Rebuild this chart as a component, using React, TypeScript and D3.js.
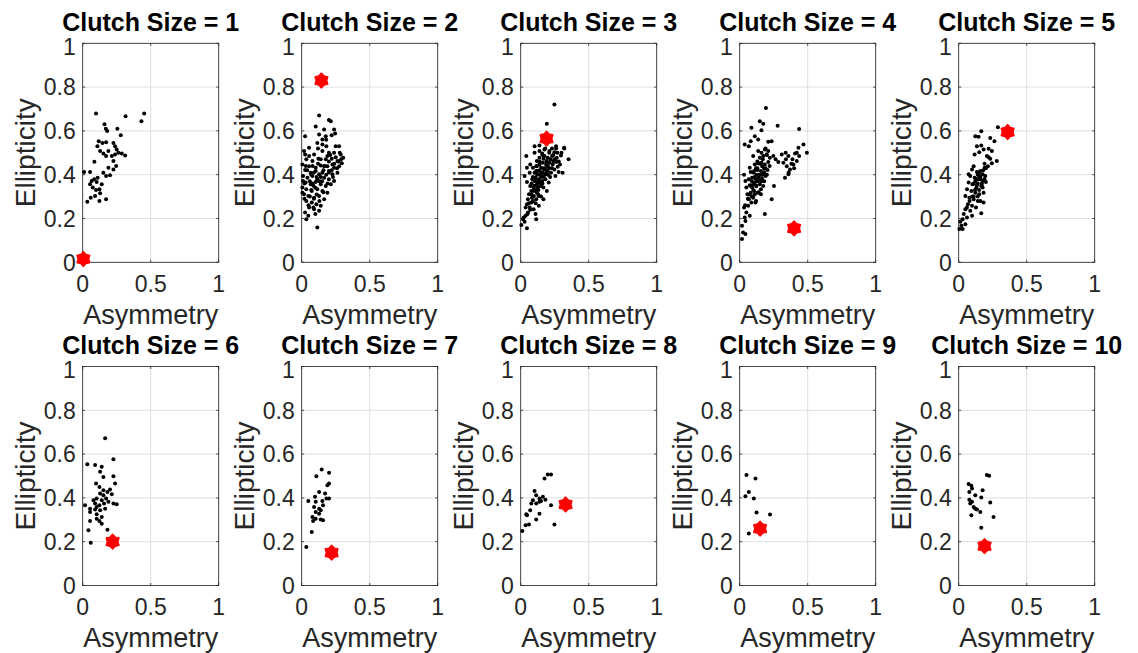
import React, { useEffect, useRef } from 'react';
import * as d3 from 'd3';

const clutchSizes = [1, 2, 3, 4, 5, 6, 7, 8, 9, 10];
const xTicks = [0, 0.5, 1];
const yTicks = [0, 0.2, 0.4, 0.6, 0.8, 1];
const xTickLabels = ['0', '0.5', '1'];
const yTickLabels = ['0', '0.2', '0.4', '0.6', '0.8', '1'];

// [asymmetry, ellipticity] for each egg, one array per clutch size
const clutch1 = [
  [0.098, 0.679], [0.315, 0.667], [0.452, 0.679], [0.432, 0.644], [0.16, 0.63], [0.17, 0.61],
  [0.18, 0.6], [0.255, 0.61], [0.28, 0.58], [0.118, 0.553], [0.145, 0.545], [0.172, 0.548],
  [0.226, 0.545], [0.238, 0.53], [0.25, 0.515], [0.108, 0.53], [0.128, 0.508], [0.152, 0.497],
  [0.172, 0.485], [0.189, 0.508], [0.214, 0.485], [0.238, 0.492], [0.263, 0.5], [0.287, 0.497],
  [0.312, 0.488], [0.226, 0.462], [0.246, 0.44], [0.226, 0.424], [0.086, 0.459], [0.189, 0.432],
  [0.152, 0.409], [0.172, 0.394], [0.201, 0.397], [0.01, 0.412], [0.054, 0.412], [0.066, 0.371],
  [0.084, 0.379], [0.103, 0.367], [0.054, 0.356], [0.074, 0.341], [0.098, 0.33], [0.123, 0.333],
  [0.128, 0.315], [0.091, 0.303], [0.059, 0.295], [0.034, 0.276], [0.123, 0.28], [0.172, 0.288],
  [0.14, 0.356], [0.11, 0.386],
];

const clutch2 = [
  [0.128, 0.67], [0.2, 0.65], [0.214, 0.644], [0.103, 0.62], [0.165, 0.606], [0.238, 0.606],
  [0.246, 0.588], [0.128, 0.583], [0.025, 0.576], [0.177, 0.576], [0.115, 0.545], [0.152, 0.538],
  [0.25, 0.53], [0.275, 0.53], [0.054, 0.523], [0.017, 0.508], [0.025, 0.492], [0.152, 0.508],
  [0.2, 0.5], [0.238, 0.5], [0.287, 0.492], [0.305, 0.477], [0.034, 0.47], [0.079, 0.462],
  [0.123, 0.473], [0.177, 0.47], [0.221, 0.473], [0.263, 0.462], [0.295, 0.452], [0.005, 0.447],
  [0.054, 0.439], [0.103, 0.432], [0.14, 0.442], [0.189, 0.439], [0.238, 0.432], [0.275, 0.439],
  [0.025, 0.421], [0.066, 0.409], [0.103, 0.417], [0.152, 0.409], [0.2, 0.417], [0.226, 0.402],
  [0.263, 0.409], [0.01, 0.394], [0.042, 0.386], [0.079, 0.394], [0.115, 0.379], [0.165, 0.386],
  [0.2, 0.379], [0.238, 0.371], [0.029, 0.364], [0.066, 0.356], [0.103, 0.367], [0.14, 0.356],
  [0.177, 0.348], [0.214, 0.356], [0.005, 0.341], [0.034, 0.333], [0.074, 0.326], [0.115, 0.333],
  [0.152, 0.326], [0.189, 0.318], [0.017, 0.311], [0.049, 0.303], [0.091, 0.295], [0.128, 0.303],
  [0.165, 0.288], [0.034, 0.28], [0.074, 0.273], [0.108, 0.265], [0.14, 0.258], [0.091, 0.242],
  [0.128, 0.235], [0.025, 0.227], [0.049, 0.212], [0.034, 0.197], [0.115, 0.159], [0.086, 0.25],
  [0.054, 0.25], [0.005, 0.318], [0.01, 0.371], [0.128, 0.402], [0.086, 0.35], [0.165, 0.439],
  [0.226, 0.447], [0.189, 0.485], [0.152, 0.561], [0.181, 0.53], [0.091, 0.492], [0.054, 0.485],
  [0.06, 0.37], [0.09, 0.41], [0.13, 0.37], [0.16, 0.42], [0.2, 0.46], [0.25, 0.48],
  [0.07, 0.33], [0.11, 0.31], [0.14, 0.39], [0.18, 0.4], [0.22, 0.42], [0.27, 0.46],
  [0.02, 0.36], [0.04, 0.42], [0.06, 0.3], [0.08, 0.44], [0.1, 0.34], [0.12, 0.45],
  [0.13, 0.28], [0.15, 0.37], [0.17, 0.44], [0.19, 0.36], [0.21, 0.49], [0.23, 0.39],
  [0.26, 0.43], [0.29, 0.47], [0.03, 0.44], [0.07, 0.4], [0.11, 0.39], [0.16, 0.32],
  [0.2, 0.41], [0.24, 0.45], [0.28, 0.5], [0.05, 0.26], [0.09, 0.29], [0.12, 0.52],
  [0.18, 0.56], [0.22, 0.58], [0.14, 0.47], [0.08, 0.36], [0.02, 0.29], [0.1, 0.22],
];

const clutch3 = [
  [0.248, 0.72], [0.192, 0.633], [0.041, 0.485], [0.352, 0.47], [0.32, 0.523], [0.26, 0.53],
  [0.005, 0.17], [0.017, 0.197], [0.029, 0.185], [0.046, 0.155], [0.036, 0.212], [0.053, 0.227],
  [0.066, 0.25], [0.046, 0.265], [0.078, 0.273], [0.095, 0.242], [0.109, 0.22], [0.083, 0.295],
  [0.114, 0.288], [0.061, 0.311], [0.095, 0.326], [0.119, 0.318], [0.131, 0.303], [0.07, 0.348],
  [0.095, 0.341], [0.119, 0.356], [0.143, 0.348], [0.167, 0.341], [0.046, 0.367], [0.085, 0.379],
  [0.109, 0.386], [0.133, 0.379], [0.158, 0.371], [0.182, 0.379], [0.206, 0.364], [0.029, 0.394],
  [0.102, 0.409], [0.126, 0.417], [0.15, 0.409], [0.175, 0.424], [0.199, 0.417], [0.223, 0.409],
  [0.248, 0.424], [0.279, 0.412], [0.114, 0.439], [0.138, 0.447], [0.163, 0.455], [0.187, 0.447],
  [0.211, 0.455], [0.235, 0.447], [0.26, 0.458], [0.289, 0.447], [0.138, 0.477], [0.175, 0.485],
  [0.199, 0.477], [0.231, 0.485], [0.265, 0.477], [0.296, 0.488], [0.102, 0.5], [0.138, 0.508],
  [0.175, 0.515], [0.211, 0.508], [0.248, 0.503], [0.102, 0.53], [0.138, 0.533], [0.158, 0.497],
  [0.066, 0.409], [0.046, 0.432], [0.07, 0.447], [0.09, 0.432], [0.078, 0.326], [0.133, 0.258],
  [0.114, 0.197], [0.192, 0.326], [0.182, 0.402], [0.216, 0.389], [0.15, 0.432], [0.192, 0.462],
  [0.114, 0.417], [0.126, 0.341], [0.163, 0.394], [0.119, 0.462], [0.255, 0.394], [0.272, 0.436],
  [0.308, 0.409], [0.168, 0.473], [0.053, 0.288], [0.036, 0.25], [0.102, 0.371], [0.138, 0.364],
  [0.097, 0.303], [0.167, 0.288], [0.022, 0.205], [0.12, 0.4], [0.15, 0.39], [0.17, 0.43],
  [0.21, 0.43], [0.24, 0.46], [0.08, 0.36], [0.13, 0.33], [0.16, 0.36], [0.19, 0.41],
  [0.23, 0.52], [0.26, 0.52], [0.18, 0.52], [0.06, 0.27], [0.09, 0.39], [0.14, 0.42],
  [0.1, 0.35], [0.12, 0.37], [0.14, 0.4], [0.16, 0.41], [0.18, 0.43], [0.2, 0.44],
  [0.22, 0.47], [0.24, 0.49], [0.27, 0.5], [0.11, 0.33], [0.13, 0.31], [0.15, 0.35],
  [0.17, 0.39], [0.19, 0.46], [0.21, 0.5], [0.08, 0.31], [0.09, 0.28], [0.07, 0.24],
  [0.05, 0.22], [0.12, 0.44], [0.14, 0.46], [0.16, 0.49], [0.2, 0.4], [0.23, 0.43],
  [0.25, 0.47], [0.28, 0.46], [0.3, 0.5], [0.32, 0.52], [0.11, 0.27], [0.15, 0.3],
];

const clutch4 = [
  [0.193, 0.705], [0.148, 0.644], [0.173, 0.633], [0.279, 0.624], [0.437, 0.609], [0.086, 0.614],
  [0.16, 0.603], [0.111, 0.576], [0.235, 0.553], [0.469, 0.538], [0.494, 0.5], [0.432, 0.523],
  [0.037, 0.538], [0.067, 0.53], [0.081, 0.553], [0.136, 0.561], [0.309, 0.492], [0.338, 0.5],
  [0.358, 0.485], [0.388, 0.47], [0.407, 0.497], [0.321, 0.455], [0.346, 0.439], [0.37, 0.424],
  [0.395, 0.447], [0.42, 0.462], [0.358, 0.402], [0.333, 0.386], [0.437, 0.485], [0.264, 0.47],
  [0.284, 0.458], [0.247, 0.485], [0.252, 0.348], [0.017, 0.106], [0.025, 0.136], [0.042, 0.129],
  [0.017, 0.167], [0.037, 0.205], [0.049, 0.227], [0.032, 0.25], [0.062, 0.258], [0.086, 0.273],
  [0.067, 0.288], [0.099, 0.295], [0.116, 0.273], [0.081, 0.318], [0.106, 0.326], [0.131, 0.318],
  [0.156, 0.311], [0.049, 0.341], [0.074, 0.352], [0.099, 0.356], [0.123, 0.348], [0.148, 0.356],
  [0.173, 0.348], [0.042, 0.371], [0.067, 0.379], [0.091, 0.386], [0.116, 0.382], [0.141, 0.391],
  [0.165, 0.382], [0.19, 0.394], [0.032, 0.4], [0.081, 0.412], [0.106, 0.417], [0.131, 0.421],
  [0.156, 0.417], [0.18, 0.427], [0.205, 0.421], [0.111, 0.447], [0.136, 0.452], [0.16, 0.455],
  [0.185, 0.447], [0.21, 0.458], [0.148, 0.477], [0.173, 0.485], [0.198, 0.492], [0.222, 0.477],
  [0.185, 0.515], [0.21, 0.508], [0.136, 0.508], [0.099, 0.485], [0.074, 0.432], [0.057, 0.311],
  [0.091, 0.341], [0.136, 0.371], [0.123, 0.4], [0.165, 0.439], [0.185, 0.22], [0.235, 0.288],
  [0.074, 0.212], [0.042, 0.189], [0.111, 0.364], [0.156, 0.333], [0.12, 0.43], [0.14, 0.4],
  [0.17, 0.4], [0.09, 0.37], [0.13, 0.37], [0.16, 0.37], [0.19, 0.43], [0.11, 0.31],
  [0.1, 0.33], [0.12, 0.35], [0.14, 0.38], [0.16, 0.4], [0.18, 0.41], [0.11, 0.39],
  [0.13, 0.43], [0.15, 0.45], [0.17, 0.47], [0.2, 0.49], [0.08, 0.35], [0.07, 0.31],
  [0.09, 0.3], [0.12, 0.28], [0.14, 0.32], [0.18, 0.37], [0.2, 0.4], [0.22, 0.44],
  [0.1, 0.41], [0.06, 0.29], [0.04, 0.26], [0.13, 0.46], [0.16, 0.5], [0.19, 0.52],
  [0.21, 0.55], [0.34, 0.47], [0.38, 0.45], [0.4, 0.43], [0.36, 0.41], [0.42, 0.5],
];

const clutch5 = [
  [0.288, 0.617], [0.166, 0.598], [0.122, 0.576], [0.146, 0.573], [0.232, 0.568], [0.263, 0.553],
  [0.166, 0.533], [0.134, 0.53], [0.183, 0.515], [0.22, 0.518], [0.244, 0.508], [0.117, 0.492],
  [0.151, 0.503], [0.207, 0.485], [0.232, 0.473], [0.28, 0.462], [0.244, 0.452], [0.215, 0.439],
  [0.19, 0.432], [0.11, 0.439], [0.098, 0.424], [0.134, 0.412], [0.159, 0.417], [0.176, 0.402],
  [0.195, 0.394], [0.085, 0.394], [0.117, 0.386], [0.146, 0.379], [0.176, 0.371], [0.2, 0.367],
  [0.073, 0.364], [0.102, 0.356], [0.134, 0.352], [0.166, 0.348], [0.061, 0.333], [0.093, 0.326],
  [0.122, 0.318], [0.151, 0.311], [0.183, 0.318], [0.049, 0.303], [0.078, 0.295], [0.11, 0.288],
  [0.141, 0.28], [0.068, 0.265], [0.098, 0.258], [0.127, 0.25], [0.049, 0.242], [0.085, 0.235],
  [0.166, 0.224], [0.037, 0.22], [0.029, 0.197], [0.012, 0.185], [0.02, 0.167], [0.005, 0.152],
  [0.029, 0.152], [0.049, 0.174], [0.061, 0.205], [0.098, 0.212], [0.159, 0.28], [0.122, 0.371],
  [0.151, 0.394], [0.176, 0.341], [0.183, 0.273], [0.073, 0.402], [0.14, 0.4], [0.16, 0.38],
  [0.13, 0.34], [0.15, 0.33], [0.17, 0.36], [0.11, 0.3], [0.19, 0.45],
  [0.1, 0.3], [0.12, 0.33], [0.14, 0.36], [0.16, 0.39], [0.18, 0.42], [0.15, 0.41],
  [0.13, 0.38], [0.11, 0.36], [0.08, 0.28], [0.06, 0.25], [0.17, 0.35], [0.2, 0.43],
  [0.22, 0.48], [0.19, 0.38], [0.14, 0.3],
];

const clutch6 = [
  [0.165, 0.672], [0.226, 0.576], [0.034, 0.554], [0.091, 0.55], [0.14, 0.542], [0.128, 0.519],
  [0.152, 0.496], [0.226, 0.499], [0.238, 0.466], [0.098, 0.466], [0.123, 0.45], [0.152, 0.435],
  [0.182, 0.427], [0.201, 0.438], [0.214, 0.417], [0.128, 0.42], [0.103, 0.397], [0.14, 0.389],
  [0.172, 0.397], [0.091, 0.374], [0.123, 0.366], [0.157, 0.374], [0.189, 0.382], [0.226, 0.374],
  [0.25, 0.371], [0.017, 0.366], [0.054, 0.351], [0.091, 0.347], [0.128, 0.344], [0.165, 0.351],
  [0.054, 0.336], [0.103, 0.325], [0.14, 0.313], [0.103, 0.305], [0.123, 0.295], [0.054, 0.295],
  [0.14, 0.282], [0.182, 0.255], [0.042, 0.252], [0.059, 0.195], [0.103, 0.359], [0.079, 0.389],
  [0.152, 0.412],
];

const clutch7 = [
  [0.147, 0.53], [0.201, 0.515], [0.108, 0.499], [0.201, 0.466], [0.189, 0.458], [0.128, 0.427],
  [0.172, 0.42], [0.098, 0.405], [0.049, 0.386], [0.103, 0.382], [0.152, 0.386], [0.182, 0.397],
  [0.201, 0.397], [0.091, 0.359], [0.128, 0.351], [0.157, 0.366], [0.103, 0.336], [0.128, 0.328],
  [0.14, 0.344], [0.079, 0.313], [0.103, 0.305], [0.14, 0.301], [0.157, 0.298], [0.084, 0.295],
  [0.074, 0.244], [0.034, 0.176],
];

const clutch8 = [
  [0.175, 0.489], [0.199, 0.507], [0.223, 0.507], [0.102, 0.432], [0.114, 0.412], [0.138, 0.397],
  [0.163, 0.405], [0.182, 0.392], [0.15, 0.386], [0.09, 0.389], [0.078, 0.374], [0.223, 0.366],
  [0.114, 0.374], [0.138, 0.382], [0.07, 0.344], [0.041, 0.325], [0.138, 0.328], [0.114, 0.301],
  [0.061, 0.279], [0.036, 0.275], [0.248, 0.279], [0.012, 0.249], [0.046, 0.321],
];

const clutch9 = [
  [0.05, 0.504], [0.116, 0.489], [0.067, 0.427], [0.042, 0.408], [0.104, 0.397], [0.124, 0.333],
  [0.223, 0.324], [0.067, 0.237],
];

const clutch10 = [
  [0.207, 0.504], [0.224, 0.501], [0.073, 0.463], [0.093, 0.455], [0.098, 0.443], [0.176, 0.435],
  [0.078, 0.427], [0.122, 0.412], [0.166, 0.402], [0.078, 0.392], [0.098, 0.382], [0.232, 0.379],
  [0.11, 0.359], [0.134, 0.347], [0.159, 0.336], [0.093, 0.321], [0.256, 0.313], [0.166, 0.264],
  [0.122, 0.351], [0.085, 0.374],
];

// red hexagram: reference egg for each clutch size
const refX = [0.005, 0.145, 0.19, 0.4, 0.36, 0.22, 0.22, 0.33, 0.15, 0.19];
const refY = [0.015, 0.83, 0.565, 0.155, 0.595, 0.2, 0.15, 0.37, 0.26, 0.18];

const clutchData = [clutch1, clutch2, clutch3, clutch4, clutch5, clutch6, clutch7, clutch8, clutch9, clutch10];

const FONT = '"Liberation Sans", Arial, Helvetica, sans-serif';
const AXIS_COLOR = '#262626';

function hexagramPath(r: number) {
  const pts: [number, number][] = [];
  for (let k = 0; k < 12; k++) {
    const rad = k % 2 === 0 ? r : r * 0.72;
    const a = (Math.PI / 6) * k - Math.PI / 2;
    pts.push([rad * Math.cos(a), rad * Math.sin(a)]);
  }
  return d3.line()(pts) + 'Z';
}

const App = () => {
  const ref = useRef<SVGSVGElement>(null);

  useEffect(() => {
    const svg = d3.select(ref.current);
    svg.selectAll('*').remove();

    const plotW = 136;
    const plotH = 219;
    const colStep = 219;
    const left0 = 82.7;
    const tops = [43.3, 366.5];

    clutchSizes.forEach((size, i) => {
      const col = i % 5;
      const row = Math.floor(i / 5);
      const g = svg.append('g')
        .attr('transform', `translate(${left0 + col * colStep},${tops[row]})`);

      const x = d3.scaleLinear().domain([0, 1]).range([0, plotW]);
      const y = d3.scaleLinear().domain([0, 1]).range([plotH, 0]);

      g.append('rect')
        .attr('width', plotW)
        .attr('height', plotH)
        .attr('fill', '#fff');

      // grid
      g.selectAll('.gx')
        .data(xTicks)
        .enter().append('line')
        .attr('x1', d => x(d)).attr('x2', d => x(d))
        .attr('y1', 0).attr('y2', plotH)
        .attr('stroke', '#dfdfdf')
        .attr('stroke-width', 1);
      g.selectAll('.gy')
        .data(yTicks)
        .enter().append('line')
        .attr('y1', d => y(d)).attr('y2', d => y(d))
        .attr('x1', 0).attr('x2', plotW)
        .attr('stroke', '#dfdfdf')
        .attr('stroke-width', 1);

      // inward ticks on all four sides
      xTicks.forEach(t => {
        g.append('line').attr('x1', x(t)).attr('x2', x(t)).attr('y1', plotH).attr('y2', plotH - 2.5)
          .attr('stroke', AXIS_COLOR).attr('stroke-width', 0.8);
        g.append('line').attr('x1', x(t)).attr('x2', x(t)).attr('y1', 0).attr('y2', 2.5)
          .attr('stroke', AXIS_COLOR).attr('stroke-width', 0.8);
      });
      yTicks.forEach(t => {
        g.append('line').attr('y1', y(t)).attr('y2', y(t)).attr('x1', 0).attr('x2', 2.5)
          .attr('stroke', AXIS_COLOR).attr('stroke-width', 0.8);
        g.append('line').attr('y1', y(t)).attr('y2', y(t)).attr('x1', plotW).attr('x2', plotW - 2.5)
          .attr('stroke', AXIS_COLOR).attr('stroke-width', 0.8);
      });

      g.append('rect')
        .attr('width', plotW)
        .attr('height', plotH)
        .attr('fill', 'none')
        .attr('stroke', AXIS_COLOR)
        .attr('stroke-width', 0.8);

      // tick labels
      g.selectAll('.xl')
        .data(xTickLabels)
        .enter().append('text')
        .attr('x', (d, k) => x(xTicks[k]))
        .attr('y', plotH + 29.5)
        .attr('text-anchor', 'middle')
        .attr('font-family', FONT)
        .attr('font-size', 23)
        .attr('fill', AXIS_COLOR)
        .text(d => d);
      g.selectAll('.yl')
        .data(yTickLabels)
        .enter().append('text')
        .attr('x', -7)
        .attr('y', (d, k) => y(yTicks[k]) + (k === yTicks.length - 1 ? 3 : 0))
        .attr('dy', '0.36em')
        .attr('text-anchor', 'end')
        .attr('font-family', FONT)
        .attr('font-size', 23)
        .attr('fill', AXIS_COLOR)
        .text(d => d);

      // axis labels
      g.append('text')
        .attr('x', plotW / 2)
        .attr('y', plotH + 61.5)
        .attr('text-anchor', 'middle')
        .attr('font-family', FONT)
        .attr('font-size', 27)
        .attr('fill', AXIS_COLOR)
        .text('Asymmetry');
      g.append('text')
        .attr('transform', `translate(-48,${plotH / 2}) rotate(-90)`)
        .attr('text-anchor', 'middle')
        .attr('font-family', FONT)
        .attr('font-size', 28)
        .attr('fill', AXIS_COLOR)
        .text('Ellipticity');

      // title
      g.append('text')
        .attr('x', plotW / 2)
        .attr('y', -12.5)
        .attr('text-anchor', 'middle')
        .attr('font-family', FONT)
        .attr('font-size', 25)
        .attr('font-weight', 'bold')
        .attr('fill', '#000')
        .text(`Clutch Size = ${size}`);

      // eggs
      g.selectAll('.dot')
        .data(clutchData[i])
        .enter().append('circle')
        .attr('cx', d => x(d[0]))
        .attr('cy', d => y(d[1]))
        .attr('r', 2)
        .attr('fill', '#000');

      g.append('path')
        .attr('d', hexagramPath(7.5))
        .attr('transform', `translate(${x(refX[i])},${y(refY[i])})`)
        .attr('fill', '#ff0000')
        .attr('stroke', '#ff0000')
        .attr('stroke-width', 1.2)
        .attr('stroke-linejoin', 'round');
    });
  }, []);

  return (
    <svg
      ref={ref}
      width={1138}
      height={653}
      style={{ position: 'absolute', left: 0, top: 0, background: '#fff' }}
    />
  );
};

export default App;
